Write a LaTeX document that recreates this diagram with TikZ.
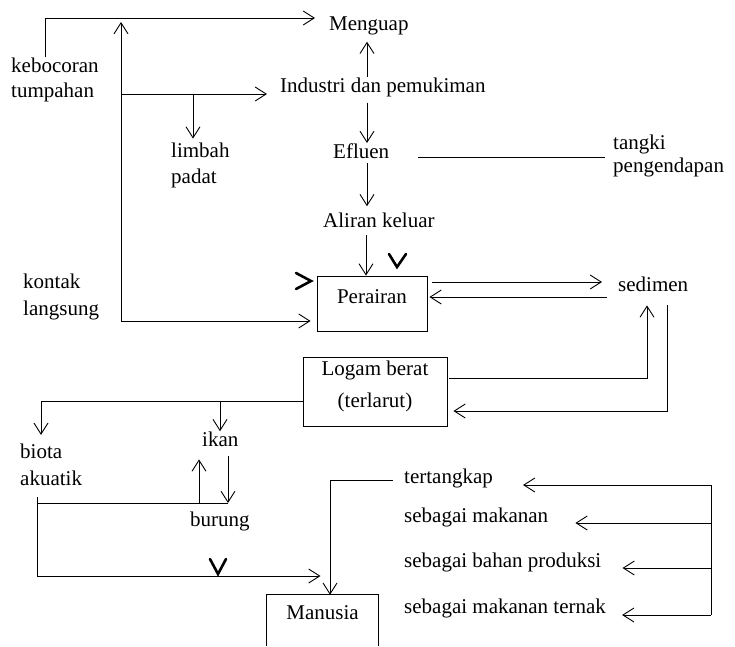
\documentclass[tikz,border=0pt]{standalone}
\usepackage{fontspec}
\setmainfont{Liberation Serif}
\usetikzlibrary{arrows.meta}
\newcommand\twol[3]{{\fontsize{21}{#1}\selectfont\begin{tabular}[t]{@{}l@{}}#2\\#3\end{tabular}}}
\tikzset{
  txt/.style={inner sep=0pt, anchor=base west, font=\fontsize{21}{26}\selectfont},
  box/.style={draw, line width=0.9pt, inner sep=0pt, font=\fontsize{21}{26}\selectfont},
  ln/.style={line width=0.9pt},
  arr/.style={line width=0.9pt, -{Straight Barb[length=11pt,width=14pt]}},
  chev/.style={line width=2.6pt, line cap=round, line join=miter}
}
\begin{document}
\begin{tikzpicture}[x=1pt,y=-1pt]
\useasboundingbox (0,0) rectangle (735,646);
% text nodes
\node[txt] (meng) at (329,30) {Menguap};
\node[txt] (ind) at (280,92) {Industri dan pemukiman};
\node[txt] (efl) at (333,158) {Efluen};
\node[txt] (tangki) at (613,149) {\twol{23}{tangki}{pengendapan}};
\node[txt] (ali) at (323,227) {Aliran keluar};
\node[txt] (keb) at (11,72) {\twol{25}{kebocoran}{tumpahan}};
\node[txt] (lim) at (171,157) {\twol{26}{limbah}{padat}};
\node[txt] (kon) at (23,288) {\twol{27}{kontak}{langsung}};
\node[box, minimum width=110pt, minimum height=55pt, text height=9pt, text depth=9pt] (per) at (372,303.5) {Perairan};
\node[txt] (sed) at (618,291) {sedimen};
\node[box, minimum width=144pt, minimum height=69pt, text height=10pt, text depth=43pt] (log) at (375,391.5)
  {{\fontsize{21}{32}\selectfont\begin{tabular}[t]{@{}c@{}}Logam berat\\(terlarut)\end{tabular}}};
\node[txt] (bio) at (20,458) {\twol{27}{biota}{akuatik}};
\node[txt] (ikan) at (202,446) {ikan};
\node[txt] (bur) at (190,526) {burung};
\node[txt] (ter) at (404,483) {tertangkap};
\node[txt] (sm) at (404,522) {sebagai makanan};
\node[txt] (sbp) at (404,567) {sebagai bahan produksi};
\node[txt] (smt) at (404,613) {sebagai makanan ternak};
\node[inner sep=0pt, font=\fontsize{21}{26}\selectfont, minimum width=111pt, minimum height=51pt, text height=8pt, text depth=11pt] (man) at (322.5,620.5) {Manusia};
\draw[ln] (man.south west) -- (man.north west) -- (man.north east) -- (man.south east);
% helper coordinates
\coordinate (topy) at (0,18);
\coordinate (trunkB) at (121,321);
\coordinate (indrow) at (121,94);
\coordinate (kebtop) at ([xshift=34pt,yshift=-3pt]keb.north west);
\coordinate (limtop) at ([xshift=22pt]lim.north west);
\coordinate (colE) at (367,0);
\coordinate (colA) at (366,0);
\coordinate (eflrow) at (0,157);
\coordinate (r1) at (0,282);
\coordinate (r2) at (0,297);
\coordinate (c647) at (647,378);
\coordinate (c667) at (667,411);
\coordinate (r401) at (0,401);
\coordinate (bioX) at (41,0);
\coordinate (ikX) at (220,0);
\coordinate (r503) at (0,503);
\coordinate (upX) at (199,0);
\coordinate (dnX) at (228,0);
\coordinate (akX) at (37,0);
\coordinate (r576) at (0,576);
\coordinate (r480) at (0,480);
\coordinate (tX) at (330,0);
\coordinate (btop) at (711,485);
\coordinate (b2) at (711,523);
\coordinate (b3) at (711,568);
\coordinate (bbot) at (711,615);
% connectors
\draw[arr, shorten >=14pt] (kebtop) |- (meng.west |- topy);
\draw[arr, shorten >=4pt] (trunkB) -- (trunkB |- topy);
\draw[arr, shorten >=6pt] (trunkB) -- (trunkB -| per.west);
\draw[arr, shorten >=13pt] (indrow) -- (indrow -| ind.west);
\draw[arr] (limtop |- indrow) -- (limtop);
\draw[arr, shorten >=7pt] (colE |- ind.north) -- (colE |- meng.south);
\draw[arr, shorten <=6pt] (colE |- ind.south) -- (colE |- efl.north);
\draw[arr, shorten <=5pt, shorten >=6pt] (colE |- efl.south) -- (colE |- ali.north);
\draw[arr, shorten <=8pt] (colA |- ali.south) -- (colA |- per.north);
\draw[ln, shorten <=29pt, shorten >=8pt] (efl.east |- eflrow) -- (tangki.west |- eflrow);
\draw[arr, shorten <=5pt, shorten >=16pt] (per.east |- r1) -- (sed.west |- r1);
\draw[arr, shorten <=11pt, shorten >=2pt] (sed.west |- r2) -- (per.east |- r2);
\draw[arr, shorten <=2pt, shorten >=14pt] (log.east |- c647) -| (c647 |- sed.south);
\draw[arr, shorten <=14pt, shorten >=6pt] (c667 |- sed.south) |- (log.east |- c667);
\draw[arr, shorten >=4pt] (log.west |- r401) -| (bioX |- bio.north);
\draw[arr] (ikX |- r401) -- (ikX |- ikan.north);
\draw[arr, shorten >=13pt] (upX |- r503) -- (upX |- ikan.south);
\draw[arr, shorten <=10pt] (dnX |- ikan.south) -- (dnX |- r503);
\draw[ln] (akX |- r503) -- (dnX |- r503);
\draw[arr, shorten <=4pt, shorten >=2pt] (akX |- bio.south) |- (man.north |- r576);
\draw[arr, shorten <=11pt] (ter.west |- r480) -| (tX |- man.north);
\draw[ln] (btop) -- (bbot);
\draw[arr, shorten >=30pt] (btop) -- (btop -| ter.east);
\draw[arr, shorten >=27pt] (b2) -- (b2 -| sm.east);
\draw[arr, shorten >=21pt] (b3) -- (b3 -| sbp.east);
\draw[arr, shorten >=16pt] (bbot) -- (bbot -| smt.east);
% bold chevrons
\draw[chev] (389,254) -- (397,267) -- (406,254);
\draw[chev] (296,273) -- (311,281) -- (296,289);
\draw[chev] (210,559) -- (218,574) -- (226,559);
\end{tikzpicture}
\end{document}
